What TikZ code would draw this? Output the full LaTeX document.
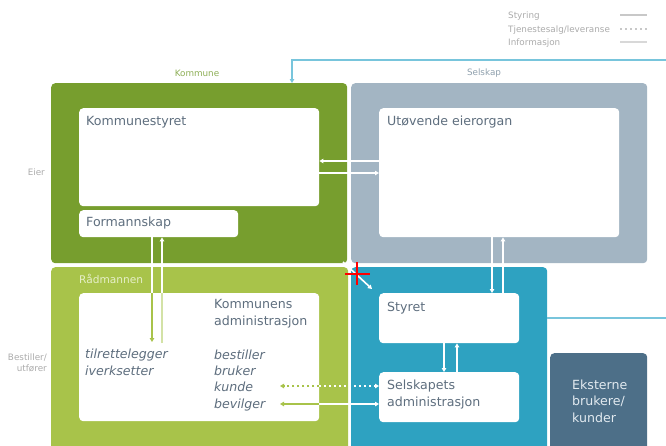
\documentclass[tikz,border=0pt]{standalone}
\usepackage{fontspec}
\setmainfont{DejaVu Sans}
\usetikzlibrary{arrows.meta}
\definecolor{dkgreen}{HTML}{779E2E}
\definecolor{ltgreen}{HTML}{A8C34A}
\definecolor{palegreen}{HTML}{D3E2A6}
\definecolor{greyblue}{HTML}{A3B5C3}
\definecolor{tealbox}{HTML}{2EA2C1}
\definecolor{slate}{HTML}{4D6F88}
\definecolor{txt}{HTML}{5E6E7E}
\definecolor{lblue}{HTML}{78C5DC}
\definecolor{legtxt}{HTML}{ABABAB}
\definecolor{legline}{HTML}{C8C8C8}
\definecolor{leglight}{HTML}{D8D8D8}
\definecolor{radtxt}{HTML}{E6EFC8}
\definecolor{ekstxt}{HTML}{E2EAF0}
\definecolor{komtxt}{HTML}{8DAE55}
\definecolor{seltxt}{HTML}{8FA0AD}
\begin{document}
\begin{tikzpicture}[x=1pt,y=-1pt,
  box/.style={rounded corners=4pt, inner sep=0pt, anchor=north west},
  lbl/.style={anchor=base west, inner sep=0pt, text=txt, font=\fontsize{12.6}{16.2}\selectfont},
  ilbl/.style={lbl, font=\fontsize{12.6}{16.2}\selectfont\itshape, align=left},
  small/.style={inner sep=0pt, text=legtxt, font=\fontsize{8.8}{11}\selectfont},
  tip/.style={-{Triangle[length=4pt,width=4.5pt]}},
  wline/.style={white, line width=1.6pt},
  gline/.style={ltgreen, line width=1.6pt},
  dots/.style={dash pattern=on 2pt off 3pt}
  ]
\useasboundingbox (0,0) rectangle (666,445);
% big boxes
\node[box, fill=dkgreen, minimum width=296pt, minimum height=180pt] (kom) at (51,83) {};
\node[box, fill=greyblue, minimum width=296pt, minimum height=180pt] (sel) at (351,83) {};
\node[box, fill=ltgreen, minimum width=297pt, minimum height=185pt] (rad) at (51,267) {};
\node[box, fill=tealbox, minimum width=196pt, minimum height=185pt] (selad) at (351,267) {};
\node[box, fill=slate, minimum width=97pt, minimum height=97pt] (ekst) at (550,353) {};
% white boxes
\node[box, fill=white, minimum width=240pt, minimum height=98pt] (kst) at (79,108) {};
\node[box, fill=white, minimum width=159pt, minimum height=27pt] (form) at (79,210) {};
\node[box, fill=white, minimum width=240pt, minimum height=129pt] (utov) at (379,108) {};
\node[box, fill=white, minimum width=240pt, minimum height=128pt] (kadm) at (79,293) {};
\node[box, fill=white, minimum width=140pt, minimum height=50pt] (styret) at (379,293) {};
\node[box, fill=white, minimum width=140pt, minimum height=50pt] (sadm) at (379,372) {};
% labels (base = baseline of last line)
\node[lbl] (tkst) at (86,125) {Kommunestyret};
\node[lbl] (tform) at (86,226) {Formannskap};
\node[lbl] (tutov) at (387,125) {Utøvende eierorgan};
\node[lbl, text=radtxt, font=\fontsize{10.6}{14}\selectfont] (trad) at (79,283) {Rådmannen};
\node[lbl, align=left] (tkadm) at (214,325) {Kommunens\\administrasjon};
\node[ilbl] (ttil) at (85,375) {tilrettelegger\\iverksetter};
\node[ilbl] (tbest) at (214,408) {bestiller\\bruker\\kunde\\bevilger};
\node[lbl] (tstyret) at (387,311) {Styret};
\node[lbl, align=left] (tsadm) at (387,406) {Selskapets\\administrasjon};
\node[lbl, align=left, text=ekstxt] (tekst) at (572,422) {Eksterne\\brukere/\\kunder};
% top labels
\node[small, text=komtxt] (tkom) at (197,73) {Kommune};
\node[small, text=seltxt] (tsel) at (484,73) {Selskap};
\node[small, anchor=base east] (teier) at (45,175) {Eier};
\node[small, anchor=base east, align=right] (tbu) at (47,371) {Bestiller/\\utfører};
% legend
\node[small, anchor=base west] (l1) at (508,18) {Styring};
\node[small, anchor=base west] (l2) at (508,32) {Tjenestesalg/leveranse};
\node[small, anchor=base west] (l3) at (508,45) {Informasjon};
\coordinate (l1e) at (620,15); \coordinate (l1f) at (647,15);
\coordinate (l2e) at (620,29); \coordinate (l2f) at (647,29);
\coordinate (l3e) at (620,42); \coordinate (l3f) at (647,42);
\draw[legline, line width=2pt] (l1e) -- (l1f);
\draw[legline, line width=2pt, dots] (l2e) -- (l2f);
\draw[leglight, line width=1.6pt] (l3e) -- (l3f);
% helper coordinates
\coordinate (bl) at (666,60);
\coordinate (bx) at (292,60);
\coordinate (br) at (666,318);
\coordinate (y161) at (0,161);
\coordinate (y173) at (0,173);
\coordinate (y386) at (0,386);
\coordinate (y404) at (0,404);
\coordinate (x152) at (152,0);
\coordinate (x162) at (162,0);
\coordinate (x492) at (492,0);
\coordinate (x503) at (503,0);
\coordinate (x444) at (444,0);
\coordinate (x457) at (457,0);
\coordinate (fd) at (152,342);
\coordinate (fu) at (162,343);
\coordinate (k1) at (280,386);
\coordinate (k2) at (280,404);
\coordinate (dg1) at (343,262);
\coordinate (dg2) at (372,289);
% blue information lines
\draw[lblue, line width=1.8pt, tip] (bl) -- (bx) -- (bx |- kom.north);
\draw[lblue, line width=1.8pt] (selad.east |- br) -- (br);
% Kommunestyret <-> Utovende
\draw[wline, tip] (utov.west |- y161) -- (kst.east |- y161);
\draw[wline, tip] (kst.east |- y173) -- (utov.west |- y173);
% Formannskap <-> administrasjon
\draw[gline, tip] (form.south -| x152) -- (fd);
\draw[wline] (form.south -| x152) -- (kadm.north -| x152);
\draw[wline, tip] (fu) -- (form.south -| x162);
\draw[palegreen, line width=1.6pt] (fu) -- (kadm.north -| x162);
% Utovende <-> Styret
\draw[wline, tip] (utov.south -| x492) -- (styret.north -| x492);
\draw[wline, tip] (styret.north -| x503) -- (utov.south -| x503);
% Styret <-> Selskapets adm
\draw[wline, tip] (styret.south -| x444) -- (sadm.north -| x444);
\draw[wline, tip] (sadm.north -| x457) -- (styret.south -| x457);
% kunde / bevilger
\draw[wline, dots, {Triangle[length=4pt,width=4.5pt]}-{Triangle[length=4pt,width=4.5pt]}] (k1) -- (sadm.west |- y386);
\draw[gline, dots, tip] (kadm.east |- y386) -- (k1);
\draw[wline, {Triangle[length=4pt,width=4.5pt]}-{Triangle[length=4pt,width=4.5pt]}] (k2) -- (sadm.west |- y404);
\draw[gline, tip] (kadm.east |- y404) -- (k2);
% diagonal
\draw[wline, tip] (dg1) -- (dg2);
% red marker
\coordinate (rc) at (357,274);
\draw[red, line width=1.4pt] ([xshift=-12pt]rc) -- ([xshift=13pt]rc) ([yshift=12pt]rc) -- ([yshift=-11pt]rc);
\end{tikzpicture}
\end{document}
